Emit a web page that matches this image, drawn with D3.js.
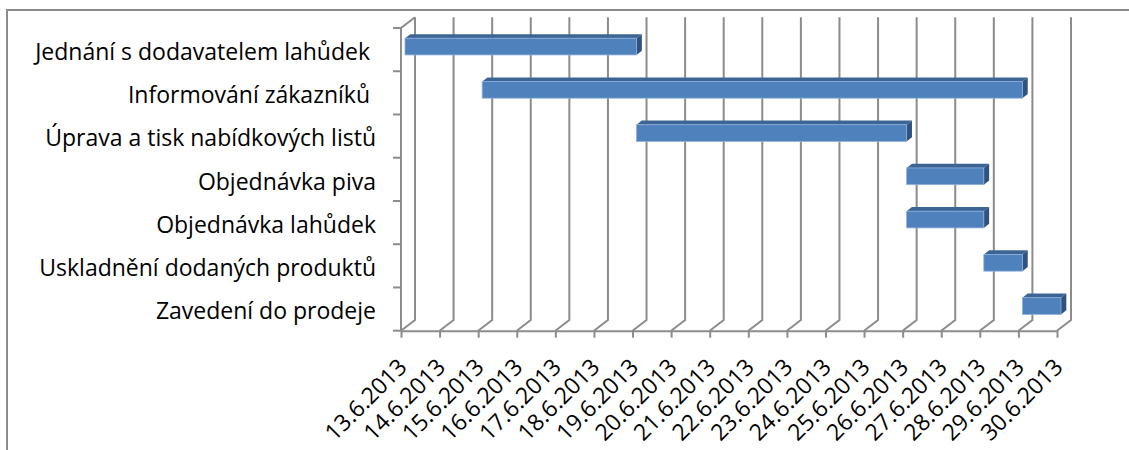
<!DOCTYPE html>
<html>
<head>
<meta charset="utf-8">
<script src="https://cdn.jsdelivr.net/npm/d3@7"></script>
<style>
  html, body { margin: 0; padding: 0; background: #fff; }
  svg { display: block; }
  text { font-family: "Open Sans", Lato, sans-serif; fill: #000; white-space: pre; }
</style>
</head>
<body>
<svg id="chart" width="1129" height="450"></svg>
<script>
// Task list of the Gantt chart (top to bottom)
const categories = [
  "Jednání s dodavatelem lahůdek ",
  "Informování zákazníků ",
  "Úprava a tisk nabídkových listů",
  "Objednávka piva",
  "Objednávka lahůdek",
  "Uskladnění dodaných produktů",
  "Zavedení do prodeje"
];
// Start and end day of every task
const startDates = ["2013-06-13", "2013-06-15", "2013-06-19", "2013-06-26", "2013-06-26", "2013-06-28", "2013-06-29"];
const endDates   = ["2013-06-19", "2013-06-29", "2013-06-26", "2013-06-28", "2013-06-28", "2013-06-29", "2013-06-30"];
// Date axis ticks (one per day)
const tickDates = ["2013-06-13", "2013-06-14", "2013-06-15", "2013-06-16", "2013-06-17", "2013-06-18",
  "2013-06-19", "2013-06-20", "2013-06-21", "2013-06-22", "2013-06-23", "2013-06-24", "2013-06-25",
  "2013-06-26", "2013-06-27", "2013-06-28", "2013-06-29", "2013-06-30"];

const parse = d3.utcParse("%Y-%m-%d");
const fmt = d3.utcFormat("%-d.%-m.%Y");
const ticks = tickDates.map(parse);

const svg = d3.select("#chart");
const fontFamily = "'Open Sans', Lato, sans-serif";

// Plot frame (front plane) and the 3D depth vector of the walls
const plot = { left: 401, right: 1057, top: 28, bottom: 330.7 };
const depth = { dx: 14, dy: -10.7 };
// bars sit inside the depth between these fractions
const barFront = 0.285, barBack = 0.665;

const x = d3.scaleUtc()
  .domain([ticks[0], ticks[ticks.length - 1]])
  .range([plot.left, plot.right]);

const y = d3.scaleBand()
  .domain(categories)
  .range([plot.top, plot.bottom])
  .padding(0);

const gridColor = "#8c8c8c";

// Chart area border
svg.append("path")
  .attr("d", `M7,450V10H1129`)
  .attr("fill", "none")
  .attr("stroke", gridColor)
  .attr("stroke-width", 2);

// Back-wall vertical gridlines and floor diagonals
const grid = svg.append("g").attr("stroke", gridColor).attr("stroke-width", 2).attr("fill", "none");
grid.selectAll("path.v")
  .data(ticks)
  .join("path")
  .attr("class", "v")
  .attr("d", d => {
    const xf = x(d), xb = xf + depth.dx;
    return `M${xb},${plot.top + depth.dy}V${plot.bottom + depth.dy}L${xf},${plot.bottom}`;
  });

// Left wall: front edge and top diagonal
grid.append("path")
  .attr("d", `M${plot.left},${plot.bottom}V${plot.top}L${plot.left + depth.dx},${plot.top + depth.dy}`);

// Category boundary ticks on the left wall
const bounds = categories.map(c => y(c)).concat([plot.bottom]);
grid.selectAll("line.ct")
  .data(bounds)
  .join("line")
  .attr("class", "ct")
  .attr("x1", plot.left - 8).attr("x2", plot.left)
  .attr("y1", d => d).attr("y2", d => d);

// Date axis along the front floor edge
const xAxis = d3.axisBottom(x)
  .tickValues(ticks)
  .tickFormat(fmt)
  .tickSize(7)
  .tickSizeOuter(0);

const gx = svg.append("g")
  .attr("transform", `translate(0,${plot.bottom})`)
  .call(xAxis);
gx.select(".domain").attr("stroke", gridColor).attr("stroke-width", 2);
gx.selectAll(".tick line").attr("stroke", gridColor).attr("stroke-width", 2);
gx.selectAll(".tick text")
  .attr("x", 0).attr("y", 0).attr("dy", "0.35em")
  .attr("text-anchor", "end")
  .attr("transform", "translate(1,32) rotate(-45)")
  .style("font-size", "23px")
  .style("font-family", fontFamily)
  .attr("fill", "#000");

// Category labels
const yAxis = d3.axisLeft(y).tickSize(0).tickPadding(25);
const gy = svg.append("g")
  .attr("transform", `translate(${plot.left},0)`)
  .call(yAxis);
gy.select(".domain").remove();
gy.selectAll(".tick text")
  .attr("dy", "0.45em")
  .style("font-size", "23px")
  .style("font-family", fontFamily)
  .attr("fill", "#000");

// 3D bars
const bh = y.bandwidth() * 0.387;
const fx = depth.dx * barFront, fy = depth.dy * barFront;
const bdx = depth.dx * (barBack - barFront), bdy = depth.dy * (barBack - barFront);

const tasks = categories.map((c, i) => ({ c, s: parse(startDates[i]), e: parse(endDates[i]) }));

const bars = svg.append("g").selectAll("g.bar")
  .data(tasks)
  .join("g")
  .attr("class", "bar");

bars.each(function (d) {
  const g = d3.select(this);
  const x0 = x(d.s) + fx, x1 = x(d.e) + fx;
  const y0 = y(d.c) + y.bandwidth() / 2 - bh / 2 + fy, y1 = y0 + bh;
  // top face
  g.append("path")
    .attr("d", `M${x0},${y0}L${x0 + bdx},${y0 + bdy}L${x1 + bdx},${y0 + bdy}L${x1},${y0}Z`)
    .attr("fill", "#3c6595");
  // side face
  g.append("path")
    .attr("d", `M${x1},${y0}L${x1 + bdx},${y0 + bdy}L${x1 + bdx},${y1 + bdy}L${x1},${y1}Z`)
    .attr("fill", "#2f5280");
  // front face
  g.append("rect")
    .attr("x", x0).attr("y", y0)
    .attr("width", x1 - x0).attr("height", bh)
    .attr("fill", "#4f81bd")
    .attr("stroke", "#8eb0dc")
    .attr("stroke-width", 0.8);
});
</script>
</body>
</html>
